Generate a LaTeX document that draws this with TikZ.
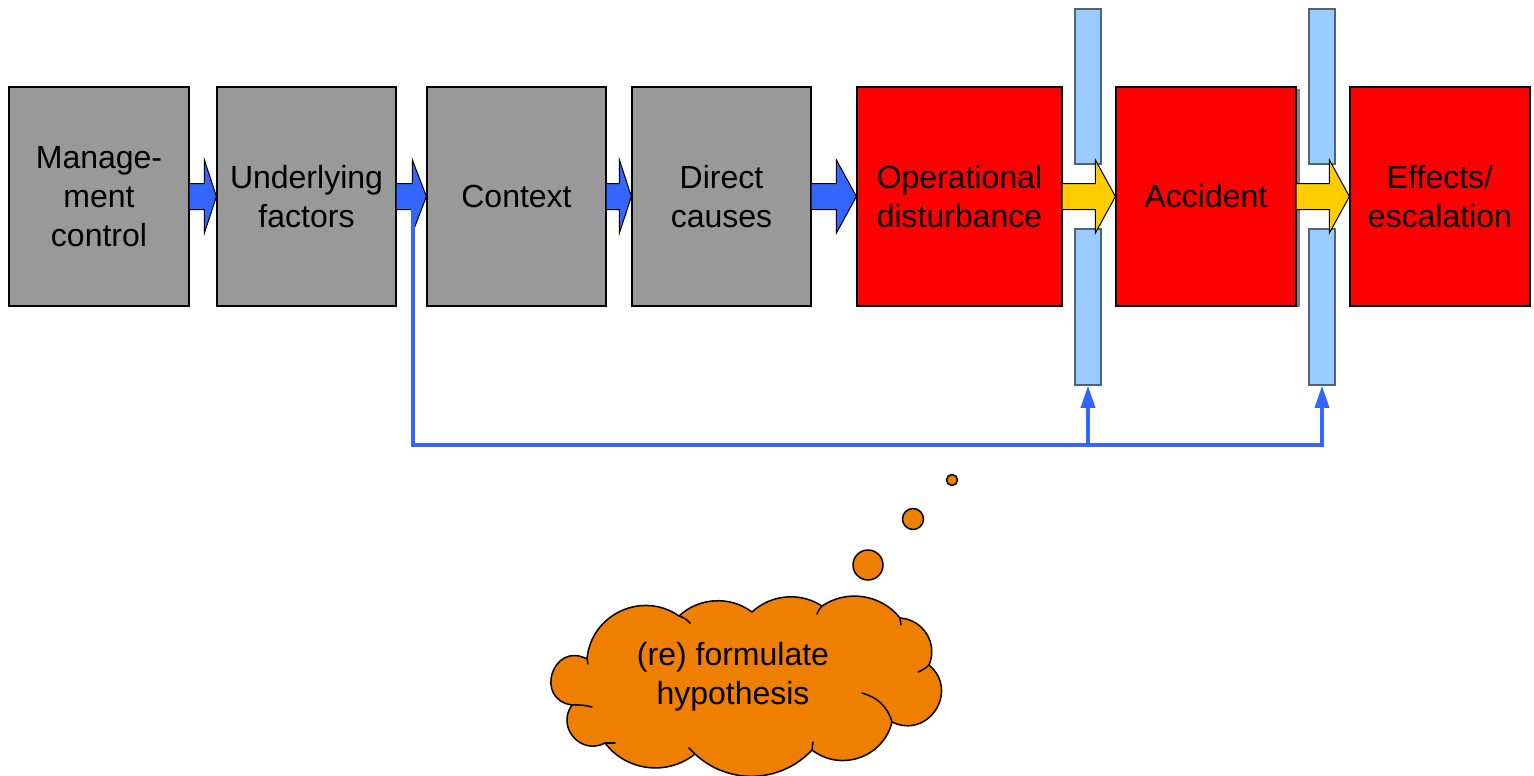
\documentclass[tikz,border=0pt]{standalone}
\usepackage{fontspec}
\setmainfont{Liberation Sans}
\usetikzlibrary{arrows.meta,calc}

\definecolor{boxgray}{HTML}{999999}
\definecolor{flowblue}{HTML}{3366FF}
\definecolor{barblue}{HTML}{99CCFF}
\definecolor{barline}{HTML}{4D6478}
\definecolor{hazard}{HTML}{FF0000}
\definecolor{flowyellow}{HTML}{FFCC00}
\definecolor{thought}{HTML}{EE7F00}
\definecolor{shadowgray}{HTML}{808080}

% block arrow from the east side of #1 to the west side of #2,
% head length #3, fill colour #4
\newcommand\blockarrow[4]{%
  \draw[blockarrow, fill=#4] let \p1=(#1.east), \p2=(#2.west) in
    (\x1,\y1+13pt) -- (\x2-#3,\y1+13pt) -- (\x2-#3,\y1+36.5pt) -- (\x2,\y1)
    -- (\x2-#3,\y1-36.5pt) -- (\x2-#3,\y1-13pt) -- (\x1,\y1-13pt);}

\begin{document}
\begin{tikzpicture}[x=1pt,y=-1pt,
  label font/.style={font=\fontsize{32}{39}\selectfont},
  stage/.style={draw=black, line width=1.2pt, inner sep=0pt, align=center,
    minimum height=219pt, label font},
  cause/.style={stage, fill=boxgray},
  event/.style={stage, fill=hazard},
  blockarrow/.style={draw=black, line width=1pt, line join=miter},
  barrier/.style={draw=barline, fill=barblue, line width=1.5pt, inner sep=0pt,
    minimum width=26pt},
  feedback/.style={draw=flowblue, line width=3.5pt},
  bubble/.style={circle, draw=black, fill=thought, line width=1.5pt, inner sep=0pt},
  thoughtcloud/.style={draw=black, fill=thought, line width=1.5pt, line join=round},
  puffline/.style={draw=black, line width=1.5pt, line cap=round}]

\useasboundingbox (0,0) rectangle (1534,776);

% causal chain
\node[cause, minimum width=180pt] (mgmt)   at (99,196.5)    {Manage-\\ment\\control};
\node[cause, minimum width=179pt] (under)  at (306.5,196.5) {Underlying\\factors};
\node[cause, minimum width=179pt] (ctx)    at (516.5,196.5) {Context};
\node[cause, minimum width=179pt] (direct) at (721.5,196.5) {Direct\\causes};
\node[event, minimum width=205pt] (opdist) at (959.5,196.5) {Operational\\disturbance};
\node[event, minimum width=180pt] (acc)    at (1206,196.5)  {Accident};
\node[event, minimum width=180pt] (eff)    at (1440,196.5)  {Effects/\\escalation};

% drop shadow on the accident box
\fill[shadowgray] ($(acc.north east)+(0.6,3)$) rectangle ($(acc.south east)+(3.5,0)$);

% barriers
\node[barrier, minimum height=155pt] (bar1t) at (1088,86.5) {};
\node[barrier, minimum height=156pt] (bar1b) at (1088,307)  {};
\node[barrier, minimum height=155pt] (bar2t) at (1322,86.5) {};
\node[barrier, minimum height=156pt] (bar2b) at (1322,307)  {};

% flow arrows between stages
\blockarrow{mgmt}{under}{12pt}{flowblue}
\blockarrow{under}{ctx}{14pt}{flowblue}
\blockarrow{ctx}{direct}{12pt}{flowblue}
\blockarrow{direct}{opdist}{20pt}{flowblue}
\blockarrow{opdist}{acc}{20pt}{flowyellow}
\blockarrow{acc}{eff}{20pt}{flowyellow}

% feedback to the barriers
\coordinate (tap) at (413,196);
\coordinate (base) at (0,445);
\draw[feedback, -{Triangle[length=22pt,width=14pt]}]
  (tap) |- (bar2b.south |- base) -- (bar2b.south);
\draw[feedback, -{Triangle[length=22pt,width=14pt]}]
  (bar1b.south |- base) -- (bar1b.south);

% thought bubbles
\node[bubble, minimum size=30pt] (b1) at (868,565) {};
\node[bubble, minimum size=21pt] (b2) at (913,519) {};
\node[bubble, minimum size=11pt] (b3) at (952,480) {};

% cloud outline, one puff per segment
\path[thoughtcloud]
  (587,659) to[bend left=60, looseness=1.13] (679,616)
  to[bend left=40, looseness=0.96] (752,612)
  to[bend left=38, looseness=0.95] (822,606)
  to[bend left=43, looseness=0.98] (900,618)
  to[bend left=55, looseness=1.08] (929,665)
  to[bend left=83, looseness=1.52] (892,722)
  to[bend left=57, looseness=1.10] (812,750)
  to[bend left=45, looseness=1.00] (695,754)
  to[bend left=46, looseness=1.00] (605,743)
  to[bend left=77, looseness=1.39] (572,705)
  to[bend left=100, looseness=2.05] (587,659) -- cycle;

% inner puff strokes
\draw[puffline] (679,616) to[bend left=15] (690,623);
\draw[puffline] (822,606) to[bend right=10] (817,614);
\draw[puffline] (900,618) -- (901,625);
\draw[puffline] (929,665) to[bend left=10] (918,672);
\draw[puffline] (892,722) .. controls (887,705) and (876,697) .. (862,693);
\draw[puffline] (812,750) -- (813,742);
\draw[puffline] (695,754) -- (689,748);
\draw[puffline] (605,743) -- (615,743);
\draw[puffline] (572,705) to[bend left=8] (592,707);
\draw[puffline] (587,659) -- (588,664);

\node[label font, align=center] (hyp) at (733,677) {(re) formulate\\hypothesis};

\end{tikzpicture}
\end{document}
